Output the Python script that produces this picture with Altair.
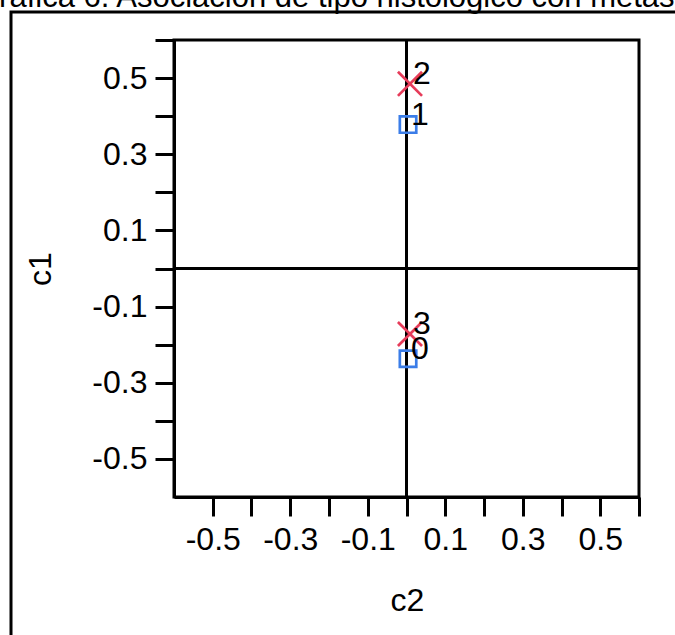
import altair as alt
import pandas as pd

# ---- data ----
point_labels = ["1", "0", "2", "3"]
c2_values = [0.004, 0.004, 0.009, 0.009]
c1_values = [0.378, -0.237, 0.485, -0.172]
groups = ["A", "A", "B", "B"]

tick_values = [-0.5, -0.4, -0.3, -0.2, -0.1, 0.0, 0.1, 0.2, 0.3, 0.4, 0.5, 0.6]
axis_domain = [-0.6, 0.6]
zero_line = [0.0]

title_text = "Gráfica 6. Asociación de tipo histológico con metástasis"

FONT = "Liberation Sans"
FS = 32

df = pd.DataFrame({"label": point_labels, "c2": c2_values, "c1": c1_values, "group": groups})

label_expr = ("round(datum.value*10) % 2 != 0 ? "
              "((datum.value < 0 ? '-' : '') + format(abs(datum.value), '.1f')) : ''")

x_enc = alt.X("c2:Q", scale=alt.Scale(domain=axis_domain, nice=False, zero=False),
              axis=alt.Axis(values=tick_values, labelExpr=label_expr, title="c2",
                            tickSize=19, labelPadding=8, titleX=233, titleY=113,
                            titleBaseline="alphabetic", titleAlign="center"))
y_enc = alt.Y("c1:Q", scale=alt.Scale(domain=axis_domain, nice=False, zero=False),
              axis=alt.Axis(values=tick_values, labelExpr=label_expr, title="c1",
                            tickSize=19, labelPadding=8, titleX=-124, titleY=228.5,
                            titleAngle=270, titleBaseline="alphabetic", titleAlign="center"))

base = alt.Chart(df)

points = base.mark_point(filled=False, strokeWidth=2.7, opacity=1).encode(
    x=x_enc,
    y=y_enc,
    shape=alt.Shape("group:N", scale=alt.Scale(domain=["A", "B"],
                    range=["square", "M-1,-1L1,1M1,-1L-1,1"]), legend=None),
    color=alt.Color("group:N", scale=alt.Scale(domain=["A", "B"],
                    range=["#3b7de8", "#e63c5a"]), legend=None),
    size=alt.Size("group:N", scale=alt.Scale(domain=["A", "B"], range=[270, 580]), legend=None),
)

texts = base.mark_text(align="left", baseline="alphabetic", dx=3, font=FONT,
                       fontSize=FS, color="black").encode(
    x="c2:Q", y="c1:Q", text="label:N")

vline = alt.Chart(pd.DataFrame({"v": zero_line})).mark_rule(color="black", strokeWidth=3).encode(x="v:Q")
hline = alt.Chart(pd.DataFrame({"v": zero_line})).mark_rule(color="black", strokeWidth=3).encode(y="v:Q")

title_mark = alt.Chart(pd.DataFrame({"t": [title_text]})).mark_text(
    align="left", baseline="alphabetic", font=FONT, fontSize=31, color="black").encode(
    text="t:N", x=alt.value(-199), y=alt.value(-33))

frame = alt.Chart(pd.DataFrame({"t": [0]})).mark_rect(
    fill="transparent", stroke="black", strokeWidth=3).encode(
    x=alt.value(-163), x2=alt.value(800), y=alt.value(-28), y2=alt.value(800))

chart = alt.layer(frame, title_mark, vline, hline, points, texts).properties(
    width=465, height=457,
    autosize=alt.AutoSizeParams(type="none"),
    padding={"left": 174, "top": 40, "right": 36, "bottom": 138},
    background="white",
).configure_view(
    stroke="black", strokeWidth=3
).configure_axis(
    grid=False, domainColor="black", domainWidth=3, tickColor="black", tickWidth=3,
    labelFont=FONT, labelFontSize=FS, labelColor="black",
    titleFont=FONT, titleFontSize=FS, titleColor="black", titleFontWeight="normal",
)

chart.save("out.html", embed_options={"renderer": "svg", "actions": False})
